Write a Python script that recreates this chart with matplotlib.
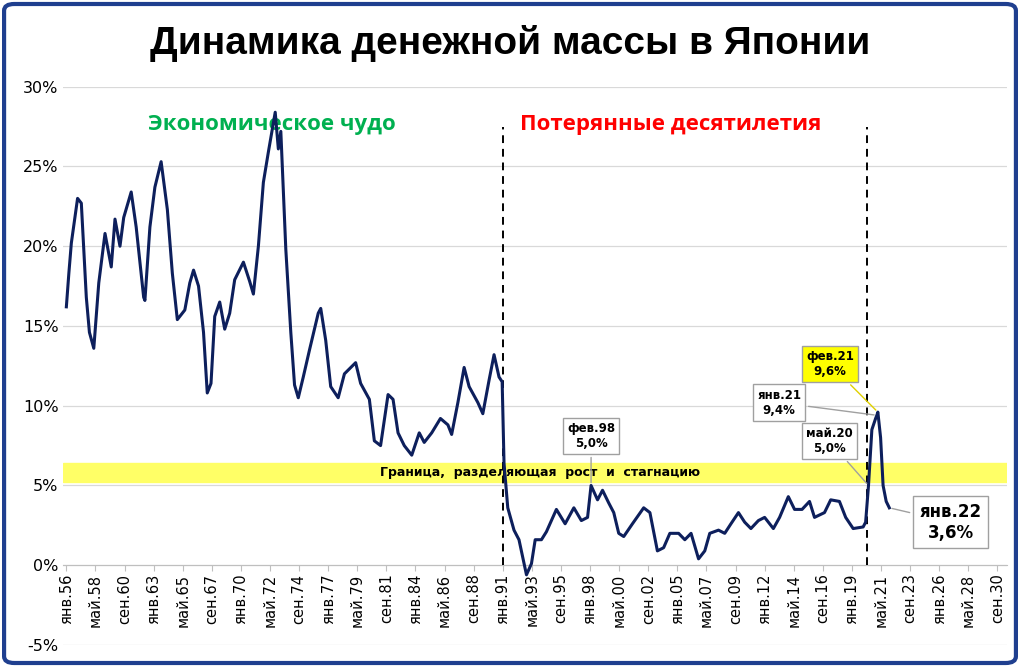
import matplotlib
matplotlib.use('Agg')
import matplotlib.pyplot as plt
from matplotlib.patches import FancyBboxPatch

# decimal year -> growth of money supply, % y/y
years = [1956.0, 1956.2, 1956.4, 1956.9, 1957.2, 1957.6, 1957.85, 1958.2, 1958.6, 1959.1,
         1959.6, 1959.9, 1960.3, 1960.6, 1961.2, 1961.6, 1962.2, 1962.3, 1962.7, 1963.1,
         1963.6, 1964.1, 1964.5, 1964.9, 1965.5, 1965.9, 1966.2, 1966.6, 1967.0, 1967.3,
         1967.6, 1967.9, 1968.3, 1968.7, 1969.1, 1969.5, 1970.2, 1970.7, 1971.0, 1971.4,
         1971.8, 1972.2, 1972.75, 1973.0, 1973.2, 1973.6, 1974.0, 1974.3, 1974.6, 1975.0,
         1975.5, 1976.2, 1976.4, 1976.8, 1977.2, 1977.8, 1978.3, 1979.2, 1979.6, 1980.3,
         1980.7, 1981.2, 1981.8, 1982.2, 1982.6, 1983.1, 1983.7, 1984.3, 1984.7, 1985.3,
         1986.0, 1986.6, 1986.9, 1987.4, 1987.9, 1988.3, 1989.0, 1989.4, 1989.9, 1990.3,
         1990.7, 1990.95, 1991.1, 1991.4, 1991.9, 1992.3, 1992.9, 1993.3, 1993.6, 1994.1,
         1994.5, 1995.3, 1996.0, 1996.7, 1997.3, 1997.8, 1998.08, 1998.6, 1999.0, 1999.5,
         1999.9, 2000.3, 2000.7, 2001.4, 2002.3, 2002.8, 2003.4, 2003.9, 2004.4, 2005.1,
         2005.6, 2006.1, 2006.7, 2007.2, 2007.6, 2008.3, 2008.8, 2009.3, 2009.9, 2010.4,
         2010.9, 2011.5, 2012.0, 2012.7, 2013.2, 2013.9, 2014.4, 2015.0, 2015.6, 2016.0,
         2016.8, 2017.3, 2018.0, 2018.5, 2019.1, 2019.9, 2020.1, 2020.33, 2020.6, 2020.9,
         2021.0, 2021.08, 2021.3, 2021.5, 2021.75, 2022.0]
values = [16.2, 18.3, 20.2, 23.0, 22.7, 16.8, 14.6, 13.6, 17.7, 20.8,
          18.7, 21.7, 20.0, 21.8, 23.4, 21.2, 16.8, 16.6, 21.2, 23.7,
          25.3, 22.3, 18.3, 15.4, 16.0, 17.7, 18.5, 17.5, 14.6, 10.8,
          11.4, 15.6, 16.5, 14.8, 15.8, 17.9, 19.0, 17.8, 17.0, 20.0,
          24.0, 25.9, 28.4, 26.1, 27.2, 19.8, 14.6, 11.3, 10.5, 11.8,
          13.5, 15.8, 16.1, 14.1, 11.2, 10.5, 12.0, 12.7, 11.4, 10.4,
          7.8, 7.5, 10.7, 10.4, 8.3, 7.5, 6.9, 8.3, 7.7, 8.3,
          9.2, 8.8, 8.2, 10.2, 12.4, 11.2, 10.2, 9.5, 11.6, 13.2,
          11.8, 11.5, 6.4, 3.6, 2.2, 1.6, -0.6, 0.1, 1.6, 1.6,
          2.1, 3.5, 2.6, 3.6, 2.8, 3.0, 5.0, 4.1, 4.7, 3.9,
          3.3, 2.0, 1.8, 2.6, 3.6, 3.3, 0.9, 1.1, 2.0, 2.0,
          1.6, 2.0, 0.4, 0.9, 2.0, 2.2, 2.0, 2.6, 3.3, 2.7,
          2.3, 2.8, 3.0, 2.3, 3.0, 4.3, 3.5, 3.5, 4.0, 3.0,
          3.3, 4.1, 4.0, 3.0, 2.3, 2.4, 2.7, 5.0, 8.5, 9.2,
          9.4, 9.6, 8.0, 5.0, 4.0, 3.6]

months = ['янв', 'фев', 'мар', 'апр', 'май', 'июн', 'июл', 'авг', 'сен', 'окт', 'ноя', 'дек']
tick_step = 28
n_ticks = 33
divider_years = [1991.0, 2020.17]
callouts = [  # (year, value, label, box position in months/%, highlight)
    (1998.08, 5.0, 'фев.98\n5,0%', (505, 8.1), False),
    (2020.33, 5.0, 'май.20\n5,0%', (734, 7.8), False),
    (2021.0, 9.4, 'янв.21\n9,4%', (686, 10.2), False),
    (2021.08, 9.6, 'фев.21\n9,6%', (735, 12.6), True),
]

def to_m(y):
    return (y - 1956.0) * 12

xs = [to_m(y) for y in years]

fig = plt.figure(figsize=(10.2, 6.67), dpi=100)
ax = fig.add_axes([0.062, 0.033, 0.925, 0.837])
ax.set_xlim(-3, 905)
ax.set_ylim(-5, 30)

for v in range(-5, 31, 5):
    ax.axhline(v, color='#d9d9d9', lw=0.9, zorder=0)

ax.axhspan(5.2, 6.4, color='#ffff66', zorder=1)
ax.text(456, 5.8, 'Граница,  разделяющая  рост  и  стагнацию', ha='center', va='center',
        fontsize=9, fontweight='bold', zorder=2)

for d in divider_years:
    ax.plot([to_m(d)] * 2, [0, 27.5], color='black', ls=(0, (4, 3)), lw=1.4, zorder=3)

ax.plot(xs, values, color='#0d1f5c', lw=2.2, zorder=4)

for yr, v, lbl, (bx, by), hl in callouts:
    ax.annotate(lbl, xy=(to_m(yr), v), xytext=(bx, by), ha='center', va='center',
                fontsize=8.5, fontweight='bold', zorder=6,
                bbox=dict(boxstyle='square,pad=0.35', fc='#ffff00' if hl else 'white',
                          ec='#a0a0a0', lw=1),
                arrowprops=dict(arrowstyle='-', color='#e0d000' if hl else '#a0a0a0', lw=1))
ax.annotate('янв.22\n3,6%', xy=(to_m(2022.0), 3.6), xytext=(851, 2.7),
            ha='center', va='center', fontsize=12, fontweight='bold', zorder=6,
            bbox=dict(boxstyle='square,pad=0.4', fc='white', ec='#a0a0a0', lw=1),
            arrowprops=dict(arrowstyle='-', color='#a0a0a0', lw=1))

tick_pos = [i * tick_step for i in range(n_ticks)]
tick_lbl = [f'{months[p % 12]}.{(1956 + p // 12) % 100:02d}' for p in tick_pos]
ax.spines['bottom'].set_position(('data', 0))
ax.spines['bottom'].set_color('#bfbfbf')
for s in ['top', 'right', 'left']:
    ax.spines[s].set_visible(False)
ax.set_xticks(tick_pos)
ax.set_xticklabels(tick_lbl)
plt.setp(ax.get_xticklabels(), rotation=90, fontsize=10.5, va='top', ha='center')
ax.tick_params(axis='x', length=4, color='#bfbfbf', pad=2)
ax.tick_params(axis='y', length=0, labelsize=11.5)
ax.set_yticks(range(-5, 31, 5))
ax.set_yticklabels([f'{v}%' for v in range(-5, 31, 5)])

ax.text(to_m(1972.5), 27.6, 'Экономическое чудо', ha='center', va='center', color='#00b050',
        fontsize=16, fontweight='bold', family='Open Sans')
ax.text(to_m(2004.5), 27.6, 'Потерянные десятилетия', ha='center', va='center', color='#ff0000',
        fontsize=16, fontweight='bold', family='Open Sans')
fig.text(0.5, 0.935, 'Динамика денежной массы в Японии', ha='center', va='center',
         fontsize=28, fontweight='bold', family='Liberation Sans')

fig.patches.append(FancyBboxPatch((0.004, 0.006), 0.992, 0.988, boxstyle='round,pad=0,rounding_size=0.01',
                                  transform=fig.transFigure, fill=False, ec='#1f3f8f', lw=3))
fig.savefig('out.png', dpi=100)
